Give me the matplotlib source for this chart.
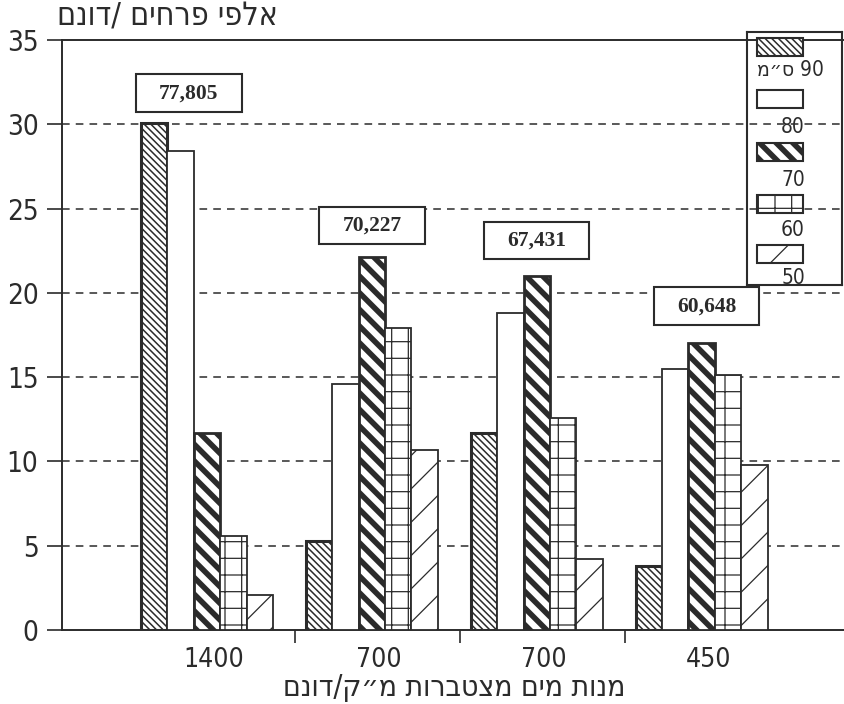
import matplotlib
matplotlib.use("Agg")
import matplotlib.pyplot as plt
from matplotlib.patches import Rectangle
import numpy as np

# ---------------- data ----------------
groups = ["1400", "700", "700", "450"]
series = ["90", "80", "70", "60", "50"]
v90 = [30.1, 5.3, 11.7, 3.8]
v80 = [28.4, 14.6, 18.8, 15.5]
v70 = [11.7, 22.1, 21.0, 17.0]
v60 = [5.6, 17.9, 12.6, 15.1]
v50 = [2.1, 10.7, 4.2, 9.8]
totals = ["77,805", "70,227", "67,431", "60,648"]

ylabel = "אלפי פרחים /דונם"
xlabel = "מנות מים מצטברות מ״ק/דונם"
unit = "ס״מ"

# ---------------- layout / style ----------------
ink = "#2b2b2b"
box_y = [31.85, 24.0, 23.1, 19.2]
box_dx = [-0.11, 0.0, 0.0, 0.03]
hatches = ["\\\\\\\\\\", "", "\\\\", "+", "/"]
hatch_lw = [1.1, 1.0, 4.0, 0.9, 0.9]
edge_lw = [2.2, 1.3, 2.0, 1.3, 1.3]
width = 0.16

def vis(s):
    # matplotlib has no bidi support: reverse Hebrew to visual order
    return s[::-1]

plt.rcParams['font.family'] = ['DejaVu Sans']
plt.rcParams['font.stretch'] = 'condensed'
plt.rcParams['text.color'] = ink

fig = plt.figure(figsize=(8.45, 7.04), dpi=100)
ax = fig.add_axes([62 / 845, 1 - 630 / 704, 1 - 62 / 845, (630 - 40) / 704])

x = np.arange(len(groups))
vals = [v90, v80, v70, v60, v50]
for k, v in enumerate(vals):
    bars = ax.bar(x + (k - 2) * width, v, width, color="white", edgecolor=ink,
                  linewidth=edge_lw[k], hatch=hatches[k], zorder=3)
    for b in bars:
        if hasattr(b, "set_hatch_linewidth"):
            b.set_hatch_linewidth(hatch_lw[k])

# total boxes
for i, t in enumerate(totals):
    cx = x[i] + box_dx[i]
    ax.add_patch(Rectangle((cx - 0.32, box_y[i] - 1.12), 0.64, 2.24,
                           facecolor="white", edgecolor=ink, lw=1.5, zorder=4))
    ax.text(cx, box_y[i], t, ha="center", va="center", fontsize=15.5,
            family="Liberation Serif", fontweight="bold", zorder=5)

ax.set_xlim(-0.88, 3.87)
ax.set_ylim(0, 35)
ax.set_yticks(np.arange(0, 36, 5))
ax.tick_params(axis="y", labelsize=20, direction="out", length=11,
               width=1.2, colors=ink, pad=6)
ax.set_xticks(x + 0.04)
ax.set_xticklabels(groups, fontsize=19)
ax.tick_params(axis="x", length=0, pad=12, colors=ink)
ax.set_xticks((x[:-1] + x[1:]) / 2 + 0.035, minor=True)
ax.tick_params(axis="x", which="minor", direction="out", length=9, width=1.2,
               color=ink)

for yv in range(5, 35, 5):
    ax.axhline(yv, color=ink, lw=1.1, ls=(0, (5, 4)), zorder=1)

for s in ["left", "bottom", "top"]:
    ax.spines[s].set_color(ink)
    ax.spines[s].set_linewidth(1.4)
ax.spines["right"].set_visible(False)

fig.text(57 / 845, 1 - 17 / 704, vis(ylabel), fontsize=23, ha="left",
         va="center")
fig.text(454 / 845, 1 - 688 / 704, vis(xlabel), fontsize=21.5, ha="center",
         va="center")

# legend drawn by hand
lg = fig.add_axes([747 / 845, 1 - 285 / 704, 95 / 845, 253 / 704])
lg.set_xlim(0, 95)
lg.set_ylim(253, 0)
lg.patch.set_alpha(0)
lg.set_xticks([])
lg.set_yticks([])
for s in lg.spines.values():
    s.set_color(ink)
    s.set_linewidth(1.5)
sw_top = [6, 58, 111, 163, 213]
lab_y = [38, 95, 148, 198, 246]
for k, name in enumerate(series):
    p = Rectangle((10, sw_top[k]), 46, 18, facecolor="white", edgecolor=ink,
                  lw=1.5, hatch=hatches[k])
    if hasattr(p, "set_hatch_linewidth"):
        p.set_hatch_linewidth(hatch_lw[k])
    lg.add_patch(p)
    label = name if k else vis(unit) + " " + name
    lg.text(46 if k else 43, lab_y[k], label, ha="center", va="center",
            fontsize=15)

fig.savefig("out.png", dpi=100, facecolor="white")
